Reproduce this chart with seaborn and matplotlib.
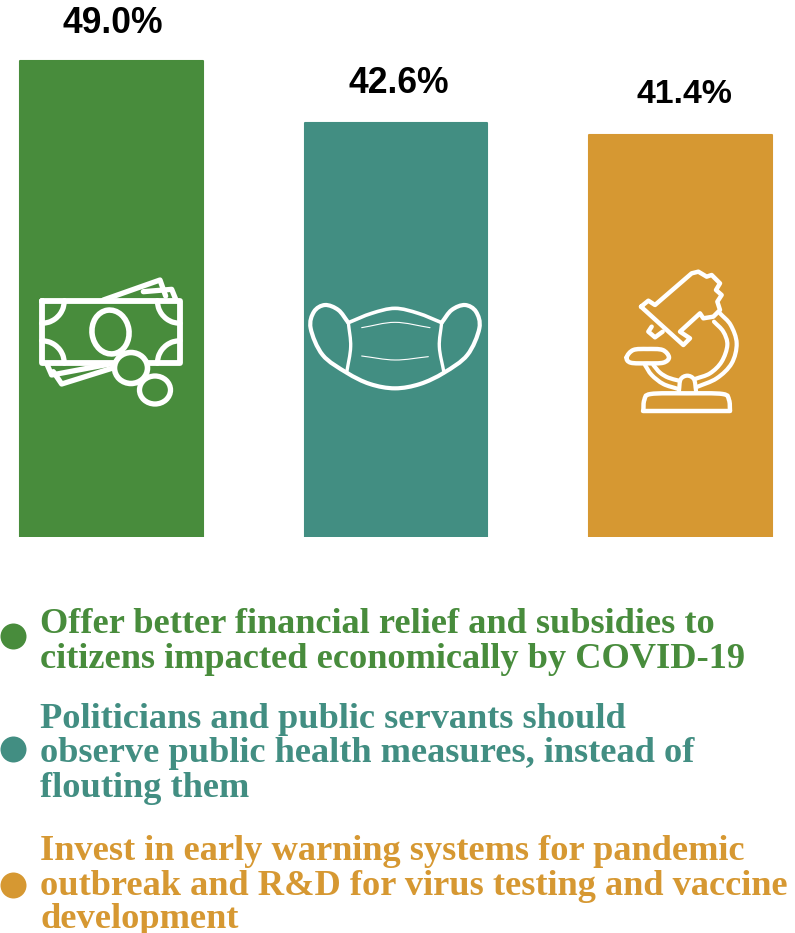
import numpy as np
import pandas as pd
import matplotlib
matplotlib.use("Agg")
import matplotlib.pyplot as plt
from matplotlib.patches import PathPatch, Ellipse
from matplotlib.path import Path
import seaborn as sns

# Survey results
measures = ["Financial relief", "Public health conduct", "Early warning and R&D"]
shares = [49.0, 42.6, 41.4]
colors = ["#488C3C", "#428E82", "#D69832"]
value_labels = ["49.0%", "42.6%", "41.4%"]
legend_lines = [
    ["Offer better financial relief and subsidies to",
     "citizens impacted economically by COVID-19"],
    ["Politicians and public servants should",
     "observe public health measures, instead of",
     "flouting them"],
    ["Invest in early warning systems for pandemic",
     "outbreak and R&D for virus testing and vaccine",
     "development"],
]

W, H = 795, 933
sns.set_theme(style="white")
fig = plt.figure(figsize=(W / 100, H / 100), dpi=100, facecolor="white")

# Bar panel spans the upper part of the canvas down to the baseline
base_px = 537
ax = fig.add_axes([0, 1 - base_px / H, 1, base_px / H])
df = pd.DataFrame({"measure": measures, "share": shares})
sns.barplot(data=df, x="measure", y="share", hue="measure", order=measures,
            hue_order=measures, palette=colors, width=0.6415, saturation=1,
            legend=False, ax=ax)
for bar, c in zip(ax.patches, colors):
    bar.set_edgecolor(c)
    bar.set_linewidth(1.5)
    bar.set_joinstyle("round")

px_per_unit = 476 / 49.0
ax.set_xlim((0 - 111.5) / 284.5, (W - 111.5) / 284.5)
ax.set_ylim(0, base_px / px_per_unit)
ax.set_axis_off()

offsets = [27.3, 28.3, 29.3]
sizes = [25.6, 25.6, 24.4]
shifts = [1, 2, 3]
for bar, text, off, fs, dx in zip(ax.patches, value_labels, offsets, sizes, shifts):
    ax.annotate(text, (bar.get_x() + bar.get_width() / 2, bar.get_height()),
                xytext=(dx, off), textcoords="offset points", ha="center",
                va="center", fontsize=fs, fontweight="bold",
                family="Liberation Sans", color="black")

# Overlay in canvas pixels for the pictograms and the key
ov = fig.add_axes([0, 0, 1, 1], facecolor="none")
ov.set_xlim(0, W)
ov.set_ylim(H, 0)
ov.set_axis_off()


def smooth(points, closed=False):
    """Catmull-Rom curve through the given points, as a Path."""
    p = np.asarray(points, float)
    if closed:
        p = np.vstack([p[-1], p, p[0], p[1]])
    else:
        p = np.vstack([2 * p[0] - p[1], p, 2 * p[-1] - p[-2]])
    verts = [p[1]]
    codes = [Path.MOVETO]
    for i in range(1, len(p) - 2):
        verts += [p[i] + (p[i + 1] - p[i - 1]) / 6,
                  p[i + 1] - (p[i + 2] - p[i]) / 6,
                  p[i + 1]]
        codes += [Path.CURVE4] * 3
    return Path(verts, codes)


def stroke(points, origin, lw=3.4, curved=False, closed=False, fill="none", z=5):
    pts = np.asarray(points, float) / 3 + np.asarray(origin)
    if curved:
        path = smooth(pts, closed)
    else:
        path = Path(np.vstack([pts, pts[0]]) if closed else pts)
    ov.add_patch(PathPatch(path, facecolor=fill, edgecolor="white", lw=lw,
                           capstyle="round", joinstyle="round", zorder=z))


def corner(cx, cy, start, origin):
    """Quarter circle centred on a banknote corner."""
    angles = np.radians(np.linspace(start, start + 90, 6))
    pts = np.column_stack([cx + 68 * np.cos(angles), cy + 68 * np.sin(angles)])
    stroke(pts, origin, lw=3.8, curved=True, z=6)


# Banknotes and coins
o = (20, 260)
stroke([(250, 120), (420, 60), (437, 108)], o, lw=3.8)
stroke([(370, 95), (455, 88), (468, 120)], o, lw=3.8)
stroke([(82, 315), (95, 345), (270, 312)], o, lw=3.8)
stroke([(100, 335), (125, 372), (285, 322)], o, lw=3.8)
stroke([(65, 122), (480, 122), (480, 310), (65, 310)], o, lw=4.2, closed=True,
       fill=colors[0])
corner(65, 122, 0, o)
corner(480, 122, 90, o)
corner(480, 310, 180, o)
corner(65, 310, 270, o)
ov.add_patch(Ellipse((110.5, 332), 37, 44, angle=-8, facecolor="none",
                     edgecolor="white", lw=4, zorder=6))
ov.add_patch(Ellipse((131, 368), 33, 31, facecolor=colors[0],
                     edgecolor="white", lw=4, zorder=7))
ov.add_patch(Ellipse((155, 390), 31, 28, facecolor=colors[0],
                     edgecolor="white", lw=3.8, zorder=6))

# Face mask
o = (300, 280)
stroke([(145, 128), (215, 100), (285, 85), (355, 100), (425, 128)], o, lw=2.6, curved=True)
stroke([(145, 128), (152, 200), (140, 278)], o, lw=2.4, curved=True)
stroke([(425, 128), (418, 200), (432, 278)], o, lw=2.4, curved=True)
stroke([(145, 128), (115, 90), (75, 75), (42, 95), (32, 145), (68, 225), (140, 278),
        (210, 312), (285, 325), (360, 312), (432, 278), (502, 225), (538, 145),
        (528, 95), (495, 75), (455, 90), (425, 128)], o, lw=3, curved=True)
stroke([(185, 143), (285, 127), (390, 143)], o, lw=0.8, curved=True)
stroke([(185, 228), (285, 240), (385, 230)], o, lw=0.8, curved=True)

# Microscope
o = (610, 260)
stroke([(93, 140), (115, 122), (135, 135), (245, 40), (265, 35), (290, 50), (305, 45),
        (330, 70), (318, 90), (335, 105), (322, 125), (330, 150), (310, 170), (280, 175),
        (270, 160), (210, 215), (240, 235), (220, 255)], o, closed=True, lw=3.2)
stroke([(125, 200), (115, 215), (135, 232), (158, 215)], o, lw=3.2)
stroke([(50, 292), (70, 270), (112, 267), (158, 270), (177, 292), (160, 308), (112, 310),
        (62, 308)], o, closed=True, lw=3.2, curved=True)
stroke([(330, 160), (362, 195), (380, 250), (365, 310), (320, 355), (258, 382)], o,
       lw=3, curved=True)
stroke([(312, 185), (340, 215), (352, 255), (335, 305), (300, 340), (255, 357)], o,
       lw=3, curved=True)
stroke([(105, 315), (125, 345), (160, 372), (205, 387)], o, lw=3, curved=True)
stroke([(130, 315), (150, 338), (175, 353), (207, 362)], o, lw=3, curved=True)
stroke([(207, 392), (212, 358), (232, 347), (252, 358), (258, 392)], o, lw=3, curved=True)
stroke([(100, 452), (103, 420), (122, 402), (230, 400), (338, 402), (357, 420), (360, 452)],
       o, lw=3.2, curved=True)
stroke([(100, 452), (360, 452)], o, lw=3.2)

# Key
dot_y = [636, 749, 885]
baselines = [[633, 668], [728, 762, 797], [860, 895, 928]]
for lines, ys, y, c in zip(legend_lines, baselines, dot_y, colors):
    ov.scatter([13], [y], s=(26 * 0.72) ** 2, color=c, linewidths=0, clip_on=False)
    for line, by in zip(lines, ys):
        ov.text(40, by, line, color=c, fontsize=26.2, fontweight="bold",
                family="Liberation Serif", va="baseline", ha="left")

fig.savefig("out.png", dpi=100, facecolor="white")
